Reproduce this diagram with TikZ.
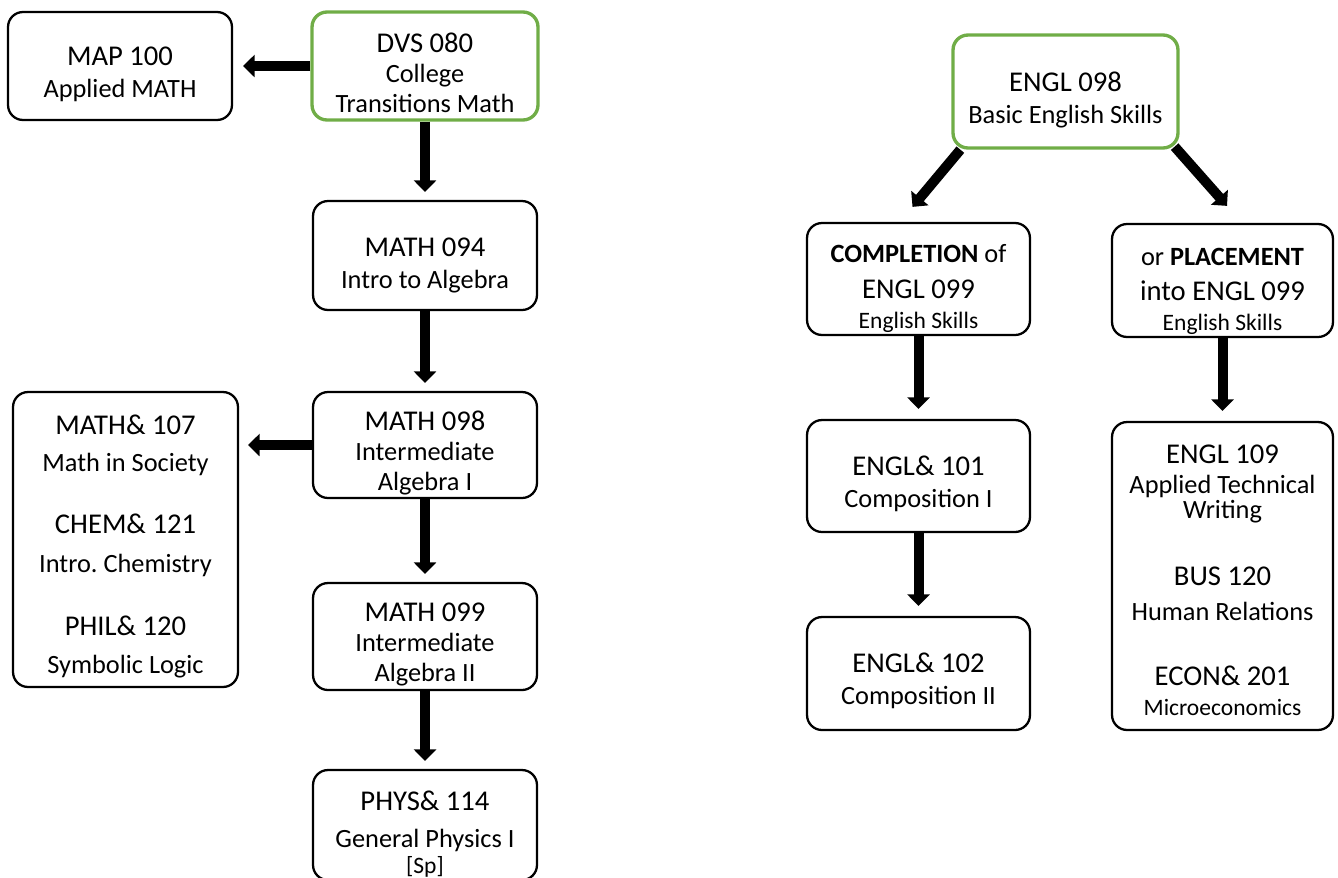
\documentclass[tikz,border=0pt]{standalone}
\usepackage{xcolor}
\usepackage{fontspec}
\setmainfont{Carlito}
\usetikzlibrary{arrows.meta,positioning}
\definecolor{startgreen}{RGB}{112,173,71}
\newcommand{\ccode}{\fontsize{16.3}{17}\selectfont}
\newcommand{\ctitle}{\fontsize{15}{17}\selectfont}
\newcommand{\cnote}{\fontsize{13.4}{17}\selectfont}
\frenchspacing

\begin{document}
\begin{tikzpicture}[x=0.02cm, y=-0.02cm]
\tikzstyle{course}=[rectangle, rounded corners=0.3cm, draw=black, line width=1.3pt, minimum width=4.48cm, minimum height=2.16cm, inner sep=0pt]
\tikzstyle{start}=[course, draw=startgreen, line width=1.9pt]
\tikzstyle{txt}=[align=center, anchor=base, inner sep=0pt, font=\ctitle]
\tikzstyle{connect}=[-{Triangle[width=0.44cm,length=0.23cm]}, line width=0.2cm]
\useasboundingbox (0,0) rectangle (1338,877);
  % math side
  \node[course] (map) at (120,66) {};
  \node[start, minimum width=4.52cm] (dvs) at (425,66) {};
  \node[course, minimum height=2.18cm] (m094) at (425,255.5) {};
  \node[course, minimum height=2.12cm] (m098) at (425,445) {};
  \node[course, minimum height=2.14cm] (m099) at (425,636.5) {};
  \node[course, minimum height=2.2cm] (phys) at (425,825) {};
  \node[course, minimum width=4.5cm, minimum height=5.9cm] (elect) at (125.5,539.5) {};
  % english side
  \node[start, minimum width=4.5cm, minimum height=2.26cm] (e098) at (1065.5,91.5) {};
  \node[course, minimum width=4.46cm, minimum height=2.24cm] (comp) at (918.5,279) {};
  \node[course, minimum width=4.42cm, minimum height=2.26cm] (plac) at (1222.5,280.5) {};
  \node[course, minimum width=4.46cm, minimum height=2.24cm] (e101) at (918.5,476) {};
  \node[course, minimum width=4.46cm, minimum height=2.26cm] (e102) at (918.5,673.5) {};
  \node[course, minimum width=4.42cm, minimum height=6.16cm] (e109) at (1222.5,576) {};

  % text sits on the baseline of its last line
  \node[txt] (map-t) at (120,97) {{\ccode MAP 100}\\[1pt]Applied MATH};
  \node[txt] (dvs-t) at (425,112) {{\ccode DVS 080}\\College\\Transitions Math};
  \node[txt] (m094-t) at (425,288) {{\ccode MATH 094}\\[1pt]Intro to Algebra};
  \node[txt] (m098-t) at (425,490) {{\ccode MATH 098}\\Intermediate\\Algebra I};
  \node[txt] (m099-t) at (425,681) {{\ccode MATH 099}\\Intermediate\\Algebra II};
  \node[txt] (phys-t) at (425,873) {{\ccode PHYS\& 114}\\[4pt]General Physics I\\[-2.3pt]{\cnote [Sp]}};
  \node[txt] (elect-t) at (125.5,673) {{\ccode MATH\& 107}\\[4pt]Math in Society\\[18.7pt]{\ccode CHEM\& 121}\\[5pt]Intro. Chemistry\\[18.7pt]{\ccode PHIL\& 120}\\[4.5pt]Symbolic Logic};
  \node[txt] (e098-t) at (1065.5,123) {{\ccode ENGL 098}\\[1pt]Basic English Skills};
  \node[txt] (comp-t) at (918.5,328) {\textbf{COMPLETION} of\\[3.4pt]{\ccode ENGL 099}\\{\cnote English Skills}};
  \node[txt] (plac-t) at (1222.5,330) {or \textbf{PLACEMENT}\\[2.8pt]{\ccode into ENGL 099}\\{\cnote English Skills}};
  \node[txt] (e101-t) at (918.5,507) {{\ccode ENGL\& 101}\\[1pt]Composition I};
  \node[txt] (e102-t) at (918.5,704) {{\ccode ENGL\& 102}\\[1pt]Composition II};
  \node[txt] (e109-t) at (1222.5,715) {{\ccode ENGL 109}\\Applied Technical\\[-2.3pt]Writing\\[21pt]{\ccode BUS 120}\\[2.8pt]Human Relations\\[19.8pt]{\ccode ECON\& 201}\\{\cnote Microeconomics}};

  \path (dvs) edge [connect, shorten >=0.2cm] (map)
        (dvs) edge [connect, shorten >=0.16cm] (m094)
        (m094) edge [connect, shorten >=0.16cm] (m098)
        (m098) edge [connect, shorten >=0.16cm] (m099)
        (m099) edge [connect, shorten >=0.16cm] (phys)
        (comp) edge [connect, shorten >=0.2cm] (e101)
        (e101) edge [connect, shorten >=0.2cm] (e102)
        (plac) edge [connect, shorten >=0.2cm] (e109);
  \draw[connect, shorten >=0.18cm] (m098) -- (m098 -| elect.east);
  \draw[connect] ([shift={(9,0)}]e098.south west) -- ([shift={(-6,-15)}]comp.north);
  \draw[connect] ([shift={(-5,-3)}]e098.south east) -- ([shift={(4.5,-17)}]plac.north);
\end{tikzpicture}
\end{document}
